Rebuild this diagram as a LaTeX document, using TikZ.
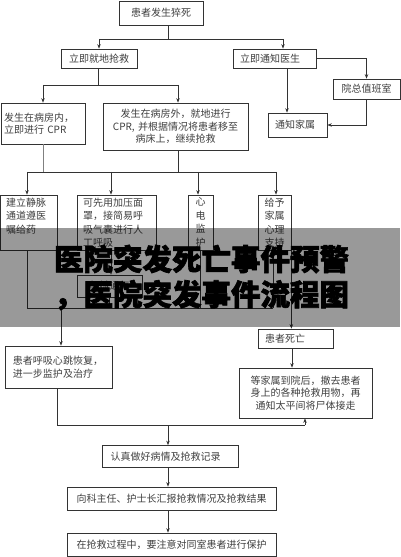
\documentclass[tikz,border=0pt]{standalone}
\usepackage{fontspec}
\newfontfamily\cjk{Noto Sans CJK SC}
\newfontfamily\cjkheavy{Noto Sans CJK SC}[FakeBold=2.2]
\usetikzlibrary{arrows.meta}
\definecolor{linec}{gray}{0.2}
\definecolor{textc}{gray}{0.25}
\begin{document}
\begin{tikzpicture}[x=1bp,y=-1bp,
  box/.style={draw=linec, line width=0.7bp, inner ysep=0pt, text=textc,
    font=\cjk\fontsize{10bp}{12.5bp}\selectfont},
  tall/.style={font=\cjk\fontsize{10bp}{13.5bp}\selectfont},
  conn/.style={draw=linec, line width=0.7bp},
  arr/.style={conn, -{Stealth[length=4.5bp,width=3.5bp]}},
  banner/.style={font=\cjkheavy\bfseries\fontsize{29.5bp}{34bp}\selectfont, text=black, inner sep=0pt}]
\useasboundingbox (0,0) rectangle (400,557);
\fill[white] (0,0) rectangle (400,557);

% top rows
\node[box, minimum width=84bp, minimum height=24bp] (n1) at (161,13) {患者发生猝死};
\node[box, minimum width=76bp, minimum height=19bp] (n2) at (99,58.5) {立即就地抢救};
\node[box, minimum height=19bp, inner xsep=7bp, text width=69bp, align=left] (n3) at (274.5,58.5) {立即通知医生};
\node[box, minimum width=67bp, minimum height=20bp] (n4) at (366.5,89) {院总值班室};
\node[box, minimum height=24bp, inner xsep=7bp, text width=45bp, align=left] (n5) at (297.5,125) {通知家属};
\node[box, minimum height=41bp, inner xsep=3bp, text width=78bp, align=left] (n6) at (43,123.5) {发生在病房内，\\立即进行 CPR};
\node[box, minimum height=47bp, inner xsep=3bp, text width=139bp, align=center] (n7) at (175.5,126.5) {发生在病房外，就地进行\\CPR, 并根据情况将患者移至\\病床上，继续抢救};

% row 3
\node[box, tall, minimum height=55bp, inner xsep=6bp, text width=45bp, align=left] (n8) at (28.5,222.5) {建立静脉\\通道遵医\\嘱给药\\\mbox{}};
\node[box, tall, minimum height=55bp, inner xsep=6bp, text width=67bp, align=left] (n9) at (116.5,222.5) {可先用加压面\\罩，接简易呼\\吸气囊进行人\\工呼吸};
\node[box, tall, minimum height=55bp, minimum width=25bp, inner xsep=0pt, align=center] (n10) at (200.5,222.5) {心\\电\\监\\护};
\node[box, tall, minimum height=55bp, minimum width=33bp, inner xsep=0pt, align=center] (n11) at (274.5,222.5) {给予\\家属\\心理\\支持};
\node[box, minimum width=65bp, minimum height=22bp] (n12) at (109.5,286) {机械通气};

% lower part
\node[box, minimum height=42bp, inner xsep=8bp, text width=91bp, align=left, tall] (n13) at (58.5,367) {患者呼吸心跳恢复，\\进一步监护及治疗};
\node[box, minimum height=19bp, inner xsep=7bp, text width=61bp, align=left] (n14) at (295.5,338.5) {患者死亡};
\node[box, minimum height=50bp, inner xsep=3bp, text width=127bp, align=center] (n15) at (305.5,393) {等家属到院后，撤去患者\\身上的各种抢救用物，再\\通知太平间将尸体接走};
\node[box, minimum height=22bp, inner xsep=8bp, text width=120bp, align=left] (n16) at (170.5,456.5) {认真做好病情及抢救记录};
\node[box, minimum width=209bp, minimum height=23bp] (n17) at (171.5,498.5) {向科主任、护士长汇报抢救情况及抢救结果};
\node[box, minimum width=209bp, minimum height=23bp] (n18) at (171.5,544.5) {在抢救过程中，要注意对同室患者进行保护};

% junction coordinates
\coordinate (j1) at (168,39);
\coordinate (a3) at (283,39);
\coordinate (j2) at (98,85);
\coordinate (a6) at (43,85);
\coordinate (a7) at (178,85);
\coordinate (c35) at (287,0);
\coordinate (h2) at (0,172);
\coordinate (a8) at (27,172);
\coordinate (a9) at (111,172);
\coordinate (a10) at (198,172);
\coordinate (a11) at (276,172);
\coordinate (m1) at (27,308);
\coordinate (m2) at (273,308);
\coordinate (m3) at (61,308);
\coordinate (m10) at (200,308);
\coordinate (c292) at (292,0);
\coordinate (b1) at (57,425);
\coordinate (b2) at (305,425);
\coordinate (b3) at (168,425);

% top connectors
\draw[conn] (j1 |- n1.south) -- (j1);
\draw[conn] (n2.north |- j1) -- (a3);
\draw[arr] (n2.north |- j1) -- (n2.north);
\draw[arr] (a3) -- (a3 |- n3.north);
\draw[arr] (n3.east) -| (n4.north);
\draw[arr] (c35 |- n3.south) -- (c35 |- n5.north);
\draw[arr] (n4.south) |- (n5.east);

\draw[conn] (j2 |- n2.south) -- (j2);
\draw[conn] (a6) -- (a7);
\draw[arr] (a6) -- (a6 |- n6.north);
\draw[arr] (a7) -- (a7 |- n7.north);

% to row 3
\draw[conn, draw=gray] (a6 |- n6.south) -- (a6 |- h2);
\draw[conn] (a7 |- n7.south) -- (a7 |- h2);
\draw[conn] (a8) -- (a11);
\draw[arr] (a8) -- (a8 |- n8.north);
\draw[arr] (a9) -- (a9 |- n9.north);
\draw[arr] (a10) -- (a10 |- n10.north);
\draw[arr] (a11) -- (a11 |- n11.north);

% row 3 down
\draw[arr] (a9 |- n9.south) -- (a9 |- n12.north);
\draw[conn] (m1 |- n8.south) -- (m1) -- (m2);
\draw[conn] (m10 |- n10.south) -- (m10);
\draw[conn] (m2 |- n11.south) -- (m2);
\draw[conn] (n12.south) -- (n12.south |- m1);
\draw[arr] (m3) -- (m3 |- n13.north);
\draw[arr] (n11.south east) -- (n11.south east |- n14.north);
\draw[arr] (c292 |- n14.south) -- (c292 |- n15.north);

% bottom
\draw[conn] (b1 |- n13.south) -- (b1) -- (b2);
\draw[arr] (b2) -- (b2 |- n15.south);
\draw[arr] (b3) -- (b3 |- n16.north);
\draw[arr] (b3 |- n16.south) -- (b3 |- n17.north);
\draw[arr] (b3 |- n17.south) -- (b3 |- n18.north);

% overlay banner
\fill[black, opacity=0.4] (0,228) rectangle (400,327);
\node[banner] (t1) at (201.5,259) {医院突发死亡事件预警};
\node[banner] (t2) at (201.5,295) {，医院突发事件流程图};
\end{tikzpicture}
\end{document}
